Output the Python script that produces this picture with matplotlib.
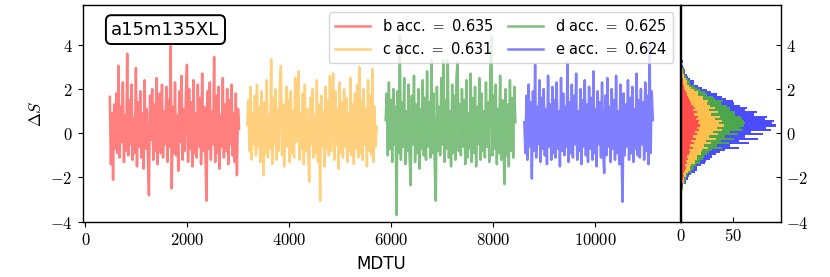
import matplotlib
matplotlib.use("Agg")
import matplotlib.pyplot as plt
import numpy as np

plt.rcParams['mathtext.fontset'] = 'cm'

# ----- Data -----
labels = ['b', 'c', 'd', 'e']
acc = [0.635, 0.631, 0.625, 0.624]
line_colors = ['red', 'orange', 'green', 'blue']

# MDTU ranges of each stream
seg_start = [480, 3175, 5890, 8610]
seg_stop = [3016, 5715, 8435, 11130]

dS_b = [1.65, -1.4, 0.9, -2.1, 1.3, -0.7, 1.8, -0.9, 3.05, -1.1,
        1.2, -0.4, 2.3, -1.3, 0.8, -0.8, 3.6, -1.0, 1.5, -0.5,
        2.2, -1.2, 0.7, -0.9, 2.95, -1.5, 1.4, -0.6, 1.9, -1.1,
        0.9, -1.6, 2.4, -0.7, 1.1, -1.0, -2.8, 1.7, -0.3, 2.0,
        -1.2, 1.3, -0.8, 2.5, -1.4, 0.6, 1.8, -0.9, 2.2, -1.1,
        1.0, -0.5, 2.1, -1.3, 1.5, -0.6, 3.95, -2.5, 1.2, -0.9,
        2.3, -1.0, 0.8, -1.7, 1.9, -0.4, 2.6, -1.2, 1.1, -0.8,
        1.7, 3.1, -1.3, 2.0, -0.7, 1.4, -1.5, 2.4, -0.9, 0.9,
        -1.1, 2.2, -0.6, 1.6, -1.4, 2.7, -0.8, 1.2, -1.0, -3.05,
        1.9, -0.7, 2.3, -1.2, 1.0, -0.5, 3.45, -1.3, 1.7, -0.9,
        2.1, -1.6, 0.8, -0.6, 2.5, -1.1, 1.3, -0.8, 2.0, -1.4,
        1.5, -0.5, 2.2, -1.0, 0.9, -1.3, 1.8, -1.9, 1.1, 0.2]

dS_c = [0.4, 1.5, -0.8, 2.1, -1.2, 0.9, -0.5, 1.7, -1.0, 2.2,
        -0.6, 1.2, -1.3, 1.9, -0.4, -1.9, 1.4, -0.9, 2.4, -1.1,
        0.8, -0.7, 3.35, -1.4, 1.6, -0.5, 2.0, -1.2, 1.1, -0.8,
        2.3, 3.05, -1.0, 1.3, -1.5, 0.7, 2.1, -0.6, 1.5, -1.3,
        1.9, -0.9, 1.0, -1.1, 2.5, -0.4, 1.2, 2.8, -1.2, 0.9,
        -0.7, 1.8, -1.4, 2.2, -0.8, 1.1, -1.0, -2.2, 1.6, -0.5,
        2.0, -1.1, 0.8, -0.9, 2.4, -1.3, 1.3, -3.05, 1.7, -0.6,
        1.0, -1.5, 2.1, -0.7, 1.5, -1.0, 2.6, -0.8, 1.2, 2.7,
        -1.2, 1.9, -0.5, 1.1, -1.6, 2.3, -0.9, 1.4, -1.1, 2.0,
        -0.6, 1.6, -1.3, 0.9, -0.8, 2.5, -1.0, 1.3, -1.4, 1.8,
        -0.7, 2.2, -1.1, 3.0, -0.9, 1.5, -1.2, 2.0, -0.5, 1.1,
        -1.5, 2.4, -0.8, 1.7, -1.0, 2.9, -1.3, 1.2, -0.6, 0.3]

dS_d = [0.6, 1.8, -1.0, 2.3, -0.7, 1.5, -1.3, 2.0, -0.5, 1.2,
        -3.7, 1.9, -0.9, 4.45, -1.2, 1.4, -0.6, 2.5, -1.4, 1.0,
        -0.8, 2.2, -1.1, -2.35, 1.7, -0.5, 2.6, -1.3, 1.3, -0.9,
        2.0, -1.6, 1.1, -0.7, 2.4, -1.0, 1.6, -1.2, 2.8, -0.6,
        1.4, -1.1, 3.3, -0.9, 1.8, -1.4, -3.05, 2.1, -0.8, 1.2,
        -1.0, 2.5, -0.5, 3.3, -1.3, 1.5, -0.7, 3.3, -1.1, 1.0,
        -1.5, 2.2, -0.9, 1.7, -1.2, 2.6, 3.2, -0.8, 1.3, -1.0,
        2.0, -0.6, 1.5, -1.4, 2.4, -1.1, 0.9, -0.7, 2.7, -1.3,
        1.6, -0.9, 2.1, -1.5, 1.2, -0.5, 2.5, -1.2, 1.8, -0.8,
        1.0, -1.1, 2.3, -0.6, 1.4, -1.3, 2.9, 4.4, -1.0, 1.7,
        -0.7, 2.2, -1.4, 1.1, -0.9, 2.6, -1.2, 1.5, -0.6, -2.3,
        2.0, -1.0, 1.3, -1.5, 2.4, -0.8, 1.6, -1.1, 2.1, 0.5]

dS_e = [0.5, -0.9, 1.7, -1.2, 2.2, -0.6, 1.4, -2.05, 1.9, -0.8,
        3.1, -1.1, 1.2, -0.5, 2.4, -1.3, 1.6, -0.7, 2.0, -1.0,
        1.1, -1.4, 2.6, -0.6, 1.3, -1.2, 2.1, -0.9, 1.5, -1.1,
        2.3, -0.7, 1.0, -1.5, 2.5, -0.8, 1.8, -1.0, 1.2, -0.6,
        3.2, -1.3, 1.4, -0.9, 2.2, -1.1, 1.7, -0.5, 2.7, -1.2,
        1.0, -0.8, 2.0, -1.4, 1.5, -0.6, 2.4, -1.0, 1.3, -1.3,
        2.1, -0.7, 1.6, -1.2, 2.8, -0.9, 1.1, -1.5, 1.9, -0.5,
        1.4, -1.1, 2.3, -0.8, -1.8, 1.7, -1.0, 2.5, -0.6, 1.2,
        -1.3, 2.0, -0.7, 1.5, -1.2, 2.6, -0.9, 1.0, -1.4, 2.2,
        -0.8, -3.1, 1.8, -1.0, 1.3, -0.6, 2.4, -1.2, 1.6, -0.9,
        2.1, -1.3, 1.1, -0.7, 2.7, -1.0, 1.5, -1.1, 2.0, -0.5,
        1.4, -1.2, 2.3, -0.8, 1.7, -1.4, 4.1, -0.9, 1.9, 0.6]

series = [dS_b, dS_c, dS_d, dS_e]

# histogram: bins of width 0.1 starting at -3.8
bin_lo = -3.8
bin_w = 0.1
cnt_b = [0, 0, 0, 0, 0, 0, 1, 0, 0, 1,
         0, 1, 1, 0, 1, 2, 1, 2, 3, 2,
         3, 4, 5, 4, 6, 5, 7, 6, 8, 9,
         8, 11, 9, 12, 10, 14, 11, 15, 13, 17,
         15, 18, 16, 17, 14, 16, 12, 15, 11, 13,
         11, 10, 9, 8, 7, 6, 5, 4, 3, 3,
         2, 2, 2, 1, 1, 1, 1, 0, 1, 0,
         1, 0, 0, 1, 0, 0, 0, 0, 0, 0,
         0, 0, 0, 0]
cnt_c = [0, 0, 0, 0, 0, 0, 0, 0, 0, 0,
         0, 0, 1, 1, 0, 1, 2, 1, 2, 3,
         4, 5, 4, 6, 7, 8, 8, 9, 11, 10,
         12, 15, 13, 17, 14, 19, 16, 20, 18, 22,
         19, 23, 20, 22, 18, 21, 17, 20, 16, 19,
         17, 15, 17, 13, 14, 10, 11, 8, 7, 5,
         4, 4, 3, 2, 2, 1, 1, 1, 0, 1,
         0, 1, 0, 0, 0, 0, 0, 0, 0, 0,
         0, 0, 0, 0]
cnt_d = [0, 0, 0, 0, 0, 0, 0, 0, 0, 0,
         0, 0, 0, 1, 0, 1, 1, 2, 1, 2,
         3, 2, 3, 4, 5, 5, 6, 7, 6, 8,
         10, 13, 12, 17, 14, 18, 15, 19, 16, 20,
         22, 19, 25, 21, 26, 20, 23, 17, 20, 15,
         16, 13, 14, 11, 10, 9, 7, 6, 5, 4,
         3, 3, 2, 2, 1, 1, 1, 1, 0, 0,
         0, 0, 1, 0, 0, 0, 0, 0, 0, 0,
         0, 0, 0, 1]
cnt_e = [0, 0, 0, 0, 0, 0, 0, 0, 0, 0,
         0, 0, 0, 0, 1, 1, 1, 2, 2, 3,
         3, 4, 3, 5, 5, 6, 7, 8, 8, 10,
         12, 16, 13, 19, 17, 23, 19, 24, 20, 27,
         25, 31, 26, 29, 22, 25, 18, 21, 14, 16,
         12, 13, 10, 11, 8, 9, 6, 7, 5, 4,
         3, 3, 2, 2, 2, 1, 1, 1, 1, 0,
         1, 0, 0, 0, 0, 0, 0, 0, 1, 0,
         0, 0, 0, 0]
counts = [cnt_b, cnt_c, cnt_d, cnt_e]

# ----- Figure -----
fig = plt.figure(figsize=(8.3, 2.77), dpi=100)
ax = fig.add_axes([0.0996, 0.1996, 0.7196, 0.7823])
axh = fig.add_axes([0.8205, 0.1996, 0.1205, 0.7823], sharey=ax)

for vals, x0, x1, lab, a, c in zip(series, seg_start, seg_stop, labels, acc, line_colors):
    t = np.linspace(x0, x1, len(vals))
    ax.plot(t, vals, color=c, alpha=0.5, lw=1.8,
            label=f'{lab} acc. $=$ {a:.3f}')

ax.set_ylim(-4, 5.8)
xt = [0, 2000, 4000, 6000, 8000, 10000]
ax.set_xticks(xt, [f'${v}$' for v in xt])
yt = [-4, -2, 0, 2, 4]
ax.set_yticks(yt, [f'${v}$' for v in yt])
ax.tick_params(labelsize=12)
ax.set_xlabel('MDTU', fontsize=12)
ax.set_ylabel(r'$\Delta S$', fontsize=12)

ax.legend(ncol=2, loc='upper right', fontsize=10.5, handlelength=2.4,
          columnspacing=1.0)
ax.text(0.048, 0.928, 'a15m135XL', transform=ax.transAxes, fontsize=13,
        ha='left', va='top',
        bbox=dict(boxstyle='round', fc='white', ec='black', lw=1.4))

# stacked horizontal histogram
centers = bin_lo + bin_w * (np.arange(len(cnt_b)) + 0.5)
left = np.zeros(len(cnt_b))
for cnt, c in zip(counts, line_colors):
    axh.barh(centers, cnt, height=bin_w, left=left, color=c, alpha=0.7,
             linewidth=0)
    left = left + np.array(cnt)

axh.set_xticks([0, 50], ['$0$', '$50$'])
axh.tick_params(axis='y', left=False, labelleft=False, right=True,
                labelright=True, direction='in', labelsize=12)
axh.tick_params(axis='x', direction='in', labelsize=12)
axh.set_yticks(yt, [f'${v}$' for v in yt])

for a_ in (ax, axh):
    for s in a_.spines.values():
        s.set_linewidth(1.0)

fig.savefig('out.png', dpi=100)
